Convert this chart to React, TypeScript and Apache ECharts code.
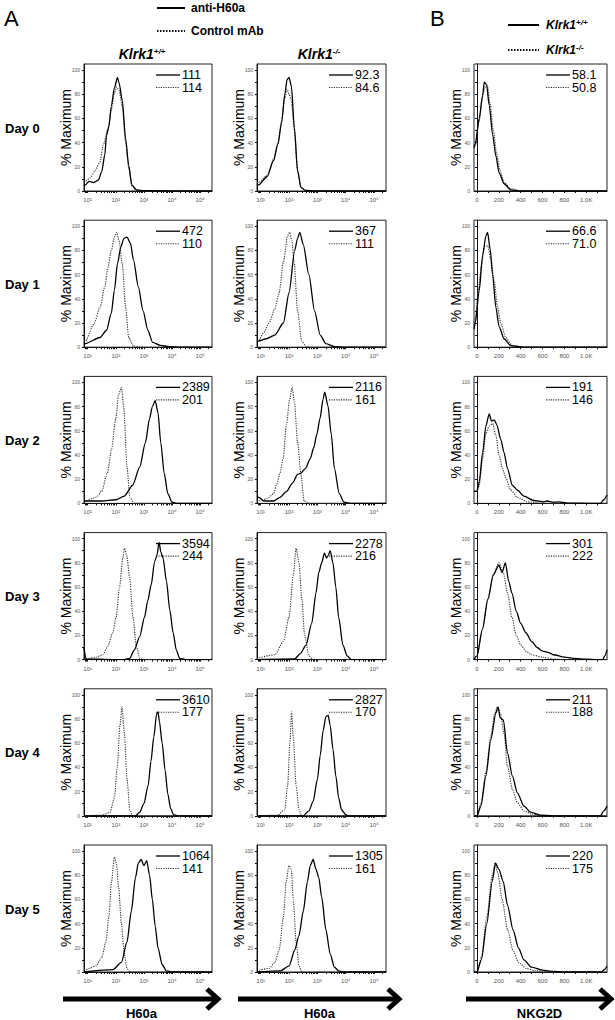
import React, { useEffect, useRef } from "react";
import * as echarts from "echarts";

// ---------- labels ----------
const days = ["Day 0", "Day 1", "Day 2", "Day 3", "Day 4", "Day 5"];
const logTickLabels = ["10¹", "10²", "10³", "10⁴", "10⁵"];
const logTickValues = [1, 2, 3, 4, 5];
const linTickValues = [0, 200, 400, 600, 800, 1000];
const linTickLabels = ["0", "200", "400", "600", "800", "1.0K"];
const yTickValues = [0, 20, 40, 60, 80, 100];

// MFI numbers shown in each panel (solid / dotted)
const wtSolidMFI = ["111", "472", "2389", "3594", "3610", "1064"];
const wtDottedMFI = ["114", "110", "201", "244", "177", "141"];
const koSolidMFI = ["92.3", "367", "2116", "2278", "2827", "1305"];
const koDottedMFI = ["84.6", "111", "161", "216", "170", "161"];
const nkSolidMFI = ["58.1", "66.6", "191", "301", "211", "220"];
const nkDottedMFI = ["50.8", "71.0", "146", "222", "188", "175"];

// ---------- histogram data: [log10(H60a) or NKG2D, % of max] ----------
const wt0s = [[0.87,4],[0.92,5],[1.05,8],[1.22,7],[1.38,9],[1.5,16],[1.61,30],[1.67,46],[1.76,54],[1.84,70],[1.95,85],[2.06,94],[2.12,89],[2.23,75],[2.35,43],[2.46,21],[2.57,5],[2.74,1],[3.0,0.2],[5.42,0]];
const wt0d = [[0.87,7],[0.92,8],[1.1,11],[1.27,17],[1.44,24],[1.55,38],[1.72,51],[1.84,67],[1.95,81],[2.03,86],[2.12,83],[2.23,70],[2.35,40],[2.46,19],[2.57,4],[2.74,0.5],[3.0,0],[5.42,0]];
const ko0s = [[0.87,5],[0.93,5],[1.23,12],[1.45,25],[1.61,39],[1.74,57],[1.85,80],[1.93,92],[2.0,94],[2.08,87],[2.19,52],[2.3,17],[2.42,3],[2.58,0.5],[2.9,0],[5.42,0]];
const ko0d = [[0.87,7],[0.93,7],[1.23,13],[1.45,26],[1.61,40],[1.74,58],[1.85,77],[1.93,84],[2.0,80],[2.08,75],[2.19,50],[2.3,16],[2.42,3],[2.58,0.5],[2.9,0],[5.42,0]];
const nk0s = [[-27,36],[-15,39],[21,60],[52,79],[67,90],[88,88],[112,71],[143,47],[173,29],[203,15],[248,6],[309,1],[400,0],[1190,0]];
const nk0d = [[-27,35],[-15,38],[20,58],[50,78],[75,86],[95,87],[120,72],[150,50],[180,31],[210,17],[250,7],[310,2],[400,0],[1190,0]];

const wt1s = [[0.87,3],[0.92,3],[1.44,8],[1.67,14],[1.84,28],[1.95,47],[2.06,69],[2.18,83],[2.29,90],[2.4,91],[2.52,86],[2.63,72],[2.8,50],[2.97,30],[3.14,14],[3.31,4],[3.59,1.5],[3.9,0.5],[4.3,0],[5.42,0]];
const wt1d = [[0.87,5],[0.92,5],[1.22,19],[1.44,33],[1.61,50],[1.72,66],[1.84,80],[1.95,91],[2.03,95],[2.12,88],[2.23,69],[2.35,33],[2.46,8],[2.63,1],[2.9,0],[5.42,0]];
const ko1s = [[0.87,5],[0.92,5],[1.2,7],[1.5,10],[1.8,20],[2.0,45],[2.2,80],[2.3,90],[2.38,95],[2.5,85],[2.7,60],[2.9,30],[3.1,10],[3.3,3],[3.6,0.5],[4.0,0],[5.42,0]];
const ko1d = [[0.87,5],[0.92,5],[1.1,12],[1.3,20],[1.5,32],[1.65,45],[1.8,70],[1.95,92],[2.02,95],[2.1,88],[2.18,70],[2.3,30],[2.45,5],[2.6,0.5],[2.8,0],[5.42,0]];
const nk1s = [[-27,15],[-15,20],[21,47],[52,76],[82,92],[97,95],[121,81],[143,60],[173,33],[203,17],[248,7],[309,1.3],[430,0],[1190,0]];
const nk1d = [[-27,18],[-15,23],[12,47],[42,68],[67,83],[97,84],[127,73],[158,55],[188,33],[218,20],[264,8],[324,1.3],[430,0],[1190,0]];

const wt2s = [[0.87,2],[0.92,2],[1.5,2],[2.0,3],[2.3,6],[2.6,15],[2.85,30],[3.05,50],[3.2,70],[3.3,80],[3.4,85],[3.5,75],[3.6,50],[3.72,25],[3.85,8],[4.0,1],[4.2,0],[5.42,0]];
const wt2d = [[0.87,2],[0.92,2],[1.3,5],[1.5,10],[1.7,25],[1.85,45],[2.0,70],[2.1,90],[2.2,96],[2.28,80],[2.4,30],[2.5,5],[2.65,0],[5.42,0]];
const ko2s = [[0.87,5],[0.94,5],[1.11,2],[1.45,2],[1.68,5],[1.91,10],[2.13,17],[2.3,24],[2.42,25],[2.58,29],[2.75,37],[2.87,46],[2.98,57],[3.09,70],[3.2,86],[3.26,92],[3.37,81],[3.49,57],[3.6,29],[3.77,8],[3.94,1],[4.2,0],[5.42,0]];
const ko2d = [[0.87,2],[0.94,2],[1.23,4],[1.45,8],[1.57,16],[1.68,25],[1.79,37],[1.91,65],[2.02,86],[2.11,96],[2.19,84],[2.3,51],[2.42,24],[2.53,2],[2.7,0],[5.42,0]];
const nk2s = [[-27,10],[0,10],[21,18],[52,42],[82,64],[112,74],[133,68],[158,69],[182,65],[218,53],[248,42],[279,29],[324,15],[370,11],[430,6],[520,2.4],[612,1.3],[642,2],[700,1],[750,1.2],[830,0.3],[1070,0],[1130,0],[1160,3],[1190,7]];
const nk2d = [[-27,10],[0,10],[21,15],[52,37],[82,58],[112,64],[143,66],[173,56],[203,40],[233,29],[264,21],[309,11],[370,5],[460,1.3],[580,0.3],[700,0],[1190,0]];

const wt3s = [[0.87,10],[0.94,0.5],[2.3,0],[2.49,1],[2.66,8],[2.85,19],[3.02,35],[3.14,49],[3.26,62],[3.38,81],[3.46,86],[3.54,97],[3.6,89],[3.68,84],[3.8,65],[3.92,41],[4.04,22],[4.15,8],[4.27,1],[4.5,0],[5.42,0]];
const wt3d = [[0.87,0.5],[0.94,0.5],[1.3,2],[1.54,4],[1.71,11],[1.89,22],[2.01,35],[2.13,59],[2.25,84],[2.31,92],[2.39,86],[2.49,68],[2.61,35],[2.73,11],[2.85,1],[3.0,0],[5.42,0]];
const ko3s = [[0.87,0],[2.2,0.5],[2.4,5],[2.6,12],[2.8,30],[2.95,55],[3.05,72],[3.15,80],[3.25,88],[3.32,84],[3.38,86],[3.45,90],[3.55,80],[3.65,60],[3.75,35],[3.9,12],[4.05,3],[4.2,0],[5.42,0]];
const ko3d = [[0.87,1],[1.5,4],[1.8,15],[2.0,35],[2.15,70],[2.25,92],[2.35,80],[2.45,50],[2.55,20],[2.7,3],[2.85,0],[5.42,0]];
const nk3s = [[-27,0],[0,3],[50,25],[100,50],[150,70],[200,78],[230,72],[260,80],[290,65],[320,55],[360,40],[400,30],[450,22],[500,15],[550,10],[600,7],[650,6],[700,4],[800,2],[900,1],[1000,0.3],[1100,0],[1150,0],[1170,3],[1190,8]];
const nk3d = [[-27,0],[0,3],[50,25],[100,50],[150,70],[200,80],[240,72],[280,55],[320,35],[360,20],[400,12],[450,7],[500,4],[600,2],[700,0.5],[800,0],[1190,0]];

const wt4s = [[0.87,0],[2.7,0],[2.85,3],[3.0,10],[3.15,25],[3.25,45],[3.35,65],[3.45,84],[3.5,86],[3.55,78],[3.65,60],[3.75,38],[3.85,18],[3.95,6],[4.05,1],[4.2,0],[5.42,0]];
const wt4d = [[0.87,0],[1.5,0.5],[1.8,3],[1.95,15],[2.05,40],[2.15,75],[2.22,90],[2.3,70],[2.4,30],[2.5,5],[2.6,0],[5.42,0]];
const ko4s = [[0.87,0],[2.5,0],[2.7,4],[2.85,12],[3.0,30],[3.1,50],[3.2,70],[3.3,82],[3.38,83],[3.45,75],[3.55,55],[3.65,33],[3.75,15],[3.85,5],[4.0,1],[4.1,0],[5.42,0]];
const ko4d = [[0.87,0],[1.6,0.5],[1.85,5],[1.95,25],[2.03,60],[2.09,86],[2.15,65],[2.25,25],[2.35,5],[2.45,0],[5.42,0]];
const nk4s = [[-27,0],[0,0],[36,8],[82,33],[127,63],[173,85],[194,90],[212,81],[242,79],[279,52],[324,33],[370,19],[430,8],[490,3],[580,0.5],[700,0],[1130,0],[1160,4],[1190,8]];
const nk4d = [[-27,0],[0,0],[36,10],[82,36],[127,66],[164,85],[188,90],[212,85],[248,68],[279,41],[324,22],[370,11],[430,4],[500,1.4],[580,0],[1190,0]];

const wt5s = [[0.87,0],[1.9,2],[2.2,8],[2.4,25],[2.55,50],[2.7,78],[2.8,90],[2.9,93],[3.0,88],[3.1,92],[3.2,80],[3.3,60],[3.4,38],[3.5,20],[3.65,6],[3.8,1],[4.0,0],[5.42,0]];
const wt5d = [[0.87,2],[0.92,2],[1.3,5],[1.5,12],[1.65,25],[1.75,45],[1.85,75],[1.95,95],[2.02,90],[2.1,70],[2.2,40],[2.3,15],[2.4,3],[2.5,0],[5.42,0]];
const ko5s = [[0.87,0],[1.7,1],[2.0,5],[2.2,18],[2.35,30],[2.5,50],[2.65,75],[2.75,88],[2.85,93],[2.95,85],[3.05,78],[3.15,62],[3.3,35],[3.45,15],[3.6,4],[3.75,1],[3.9,0],[5.42,0]];
const ko5d = [[0.87,1],[1.3,3],[1.5,8],[1.65,18],[1.8,45],[1.9,75],[2.0,88],[2.08,85],[2.15,60],[2.25,25],[2.35,5],[2.45,0],[5.42,0]];
const nk5s = [[-27,0],[0,0],[40,10],[90,40],[140,75],[170,90],[200,85],[240,75],[280,55],[330,35],[380,20],[430,10],[500,4],[600,1.5],[700,0.5],[800,0],[1140,0],[1165,2],[1190,5]];
const nk5d = [[-27,0],[0,0],[40,12],[90,45],[140,80],[165,90],[190,82],[230,60],[280,35],[330,18],[380,8],[450,3],[530,1],[650,0],[1190,0]];

const solidCurves = [
  [wt0s, wt1s, wt2s, wt3s, wt4s, wt5s],
  [ko0s, ko1s, ko2s, ko3s, ko4s, ko5s],
  [nk0s, nk1s, nk2s, nk3s, nk4s, nk5s],
];
const dottedCurves = [
  [wt0d, wt1d, wt2d, wt3d, wt4d, wt5d],
  [ko0d, ko1d, ko2d, ko3d, ko4d, ko5d],
  [nk0d, nk1d, nk2d, nk3d, nk4d, nk5d],
];
const solidMFI = [wtSolidMFI, koSolidMFI, nkSolidMFI];
const dottedMFI = [wtDottedMFI, koDottedMFI, nkDottedMFI];

// ---------- layout ----------
const FONT = '"Liberation Sans", Arial, sans-serif';
const COL_LEFT = [84, 257, 474];
const COL_W = [128, 129, 133];
const PANEL_H = 127;
const rowTop = (r: number) => 64 + 156.2 * r;
const LOG_MIN = 0.87;
const LOG_MAX = 5.42;
const LIN_MIN = -27;
const LIN_MAX = 1190;

function logMinorTicks(): number[] {
  const out: number[] = [];
  for (let d = 0; d <= 5; d++) {
    for (let k = 1; k <= 9; k++) {
      const v = d + Math.log10(k);
      if (v >= LOG_MIN && v <= LOG_MAX) out.push(v);
    }
  }
  return out;
}
const linMinorTicks = Array.from({ length: 12 }, (_, i) => i * 100);
const yMinorTicks = Array.from({ length: 11 }, (_, i) => i * 10);

function buildOption() {
  const grid: any[] = [];
  const xAxis: any[] = [];
  const yAxis: any[] = [];
  const series: any[] = [];
  const elements: any[] = [];
  const logTicks = logMinorTicks();

  for (let r = 0; r < 6; r++) {
    for (let c = 0; c < 3; c++) {
      const gi = grid.length;
      const left = COL_LEFT[c];
      const top = rowTop(r);
      grid.push({
        left, top, width: COL_W[c], height: PANEL_H,
        show: true, borderColor: "#222", borderWidth: 1,
      });
      const isLog = c < 2;
      xAxis.push({
        gridIndex: gi,
        type: "value",
        min: isLog ? LOG_MIN : LIN_MIN,
        max: isLog ? LOG_MAX : LIN_MAX,
        splitLine: { show: false },
        axisLine: { show: true, onZero: false, lineStyle: { color: "#111", width: 1 } },
        axisTick: { show: true, length: 2, customValues: isLog ? logTicks : linMinorTicks, lineStyle: { color: "#111" } },
        axisLabel: {
          customValues: isLog ? logTickValues : linTickValues,
          formatter: (v: number) => {
            if (isLog) return logTickLabels[logTickValues.indexOf(Math.round(v))] ?? "";
            const i = linTickValues.indexOf(Math.round(v));
            return i >= 0 ? linTickLabels[i] : "";
          },
          fontSize: 6, color: "#555", margin: 6, fontFamily: FONT,
        },
      });
      yAxis.push({
        gridIndex: gi,
        type: "value",
        min: 0, max: 105,
        splitLine: { show: false },
        axisLine: { show: true, lineStyle: { color: "#111", width: 1 } },
        axisTick: { show: true, length: 2, customValues: yMinorTicks, lineStyle: { color: "#111" } },
        axisLabel: { customValues: yTickValues, fontSize: 5, color: "#555", margin: 4, fontFamily: FONT },
      });
      series.push({
        type: "line", xAxisIndex: gi, yAxisIndex: gi,
        data: dottedCurves[c][r], symbol: "none", smooth: 0.25, smoothMonotone: "x",
        lineStyle: { color: "#333", width: 1.1, type: [1.2, 1.2] }, z: 2,
      });
      series.push({
        type: "line", xAxisIndex: gi, yAxisIndex: gi,
        data: solidCurves[c][r], symbol: "none", smooth: 0.25, smoothMonotone: "x",
        lineStyle: { color: "#000", width: 1.3 }, z: 3,
      });

      // panel legend
      const ly1 = top + 11;
      const ly2 = top + 23.5;
      elements.push({ type: "line", shape: { x1: left + 72, y1: ly1, x2: left + 96, y2: ly1 }, style: { stroke: "#000", lineWidth: 1.3 } });
      elements.push({ type: "line", shape: { x1: left + 72, y1: ly2, x2: left + 96, y2: ly2 }, style: { stroke: "#333", lineWidth: 1.1, lineDash: [1.2, 1.2] } });
      elements.push({ type: "text", x: left + 98, y: ly1, style: { text: solidMFI[c][r], fontSize: 12.5, fontFamily: FONT, fill: "#000", align: "left", verticalAlign: "middle" } });
      elements.push({ type: "text", x: left + 98, y: ly2, style: { text: dottedMFI[c][r], fontSize: 12.5, fontFamily: FONT, fill: "#000", align: "left", verticalAlign: "middle" } });

      // y axis name
      elements.push({
        type: "text", x: left - 18, y: top + PANEL_H / 2, rotation: Math.PI / 2,
        style: { text: "% Maximum", fontSize: 14, fontFamily: FONT, fill: "#000", align: "center", verticalAlign: "middle" },
      });
    }
    // day label
    elements.push({
      type: "text", x: 5, y: rowTop(r) + 64,
      style: { text: days[r], fontSize: 13, fontWeight: "bold", fontFamily: FONT, fill: "#000", align: "left", verticalAlign: "middle" },
    });
  }

  const supRich = {
    sup: { fontSize: 8, fontWeight: "bold", fontStyle: "italic", fontFamily: FONT, verticalAlign: "top", padding: [0, 0, 6, 0] },
  };
  const genoText = (x: number, y: number, sup: string, size: number, align: string) => ({
    type: "text", x, y,
    style: {
      text: "Klrk1{sup|" + sup + "}", fontSize: size, fontWeight: "bold", fontStyle: "italic", fontFamily: FONT,
      fill: "#000", align, verticalAlign: "middle", rich: supRich,
    },
  });

  // panel A legend
  elements.push({ type: "text", x: 4, y: 18, style: { text: "A", fontSize: 22, fontFamily: FONT, fill: "#000", verticalAlign: "middle" } });
  elements.push({ type: "line", shape: { x1: 157, y1: 8, x2: 185, y2: 8 }, style: { stroke: "#000", lineWidth: 2 } });
  elements.push({ type: "text", x: 191, y: 8, style: { text: "anti-H60a", fontSize: 12, fontWeight: "bold", fontFamily: FONT, fill: "#000", verticalAlign: "middle" } });
  elements.push({ type: "line", shape: { x1: 157, y1: 31, x2: 185, y2: 31 }, style: { stroke: "#000", lineWidth: 2, lineDash: [1.5, 1.5] } });
  elements.push({ type: "text", x: 191, y: 31, style: { text: "Control mAb", fontSize: 12, fontWeight: "bold", fontFamily: FONT, fill: "#000", verticalAlign: "middle" } });
  elements.push(genoText(142, 54, "+/+", 14, "center"));
  elements.push(genoText(319, 54, "-/-", 14, "center"));

  // panel B legend
  elements.push({ type: "text", x: 430, y: 18, style: { text: "B", fontSize: 22, fontFamily: FONT, fill: "#000", verticalAlign: "middle" } });
  elements.push({ type: "line", shape: { x1: 508, y1: 25, x2: 539, y2: 25 }, style: { stroke: "#000", lineWidth: 2 } });
  elements.push(genoText(546, 25, "+/+", 12, "left"));
  elements.push({ type: "line", shape: { x1: 508, y1: 50, x2: 539, y2: 50 }, style: { stroke: "#000", lineWidth: 2, lineDash: [1.5, 1.5] } });
  elements.push(genoText(546, 50, "-/-", 12, "left"));

  // bottom arrows
  const arrows = [
    { x1: 63, x2: 220, label: "H60a" },
    { x1: 238, x2: 401, label: "H60a" },
    { x1: 466, x2: 613, label: "NKG2D" },
  ];
  const ay = 999;
  arrows.forEach((a) => {
    elements.push({ type: "line", shape: { x1: a.x1, y1: ay, x2: a.x2 - 3, y2: ay }, style: { stroke: "#000", lineWidth: 5 } });
    elements.push({
      type: "polyline",
      shape: { points: [[a.x2 - 13, ay - 10], [a.x2 - 2, ay], [a.x2 - 13, ay + 10]] },
      style: { stroke: "#000", lineWidth: 5, fill: null, lineJoin: "miter", lineCap: "butt" },
    });
    elements.push({
      type: "text", x: (a.x1 + a.x2) / 2, y: 1013,
      style: { text: a.label, fontSize: 13, fontWeight: "bold", fontFamily: FONT, fill: "#000", align: "center", verticalAlign: "middle" },
    });
  });

  return {
    animation: false,
    backgroundColor: "#fff",
    grid, xAxis, yAxis, series,
    graphic: { elements },
  };
}

export default function App() {
  const ref = useRef<HTMLDivElement>(null);
  useEffect(() => {
    document.body.style.margin = "0";
    const chart = echarts.init(ref.current!, null, { renderer: "svg" });
    chart.setOption(buildOption() as any);
    return () => chart.dispose();
  }, []);
  return <div ref={ref} style={{ width: 615, height: 1020 }} />;
}
